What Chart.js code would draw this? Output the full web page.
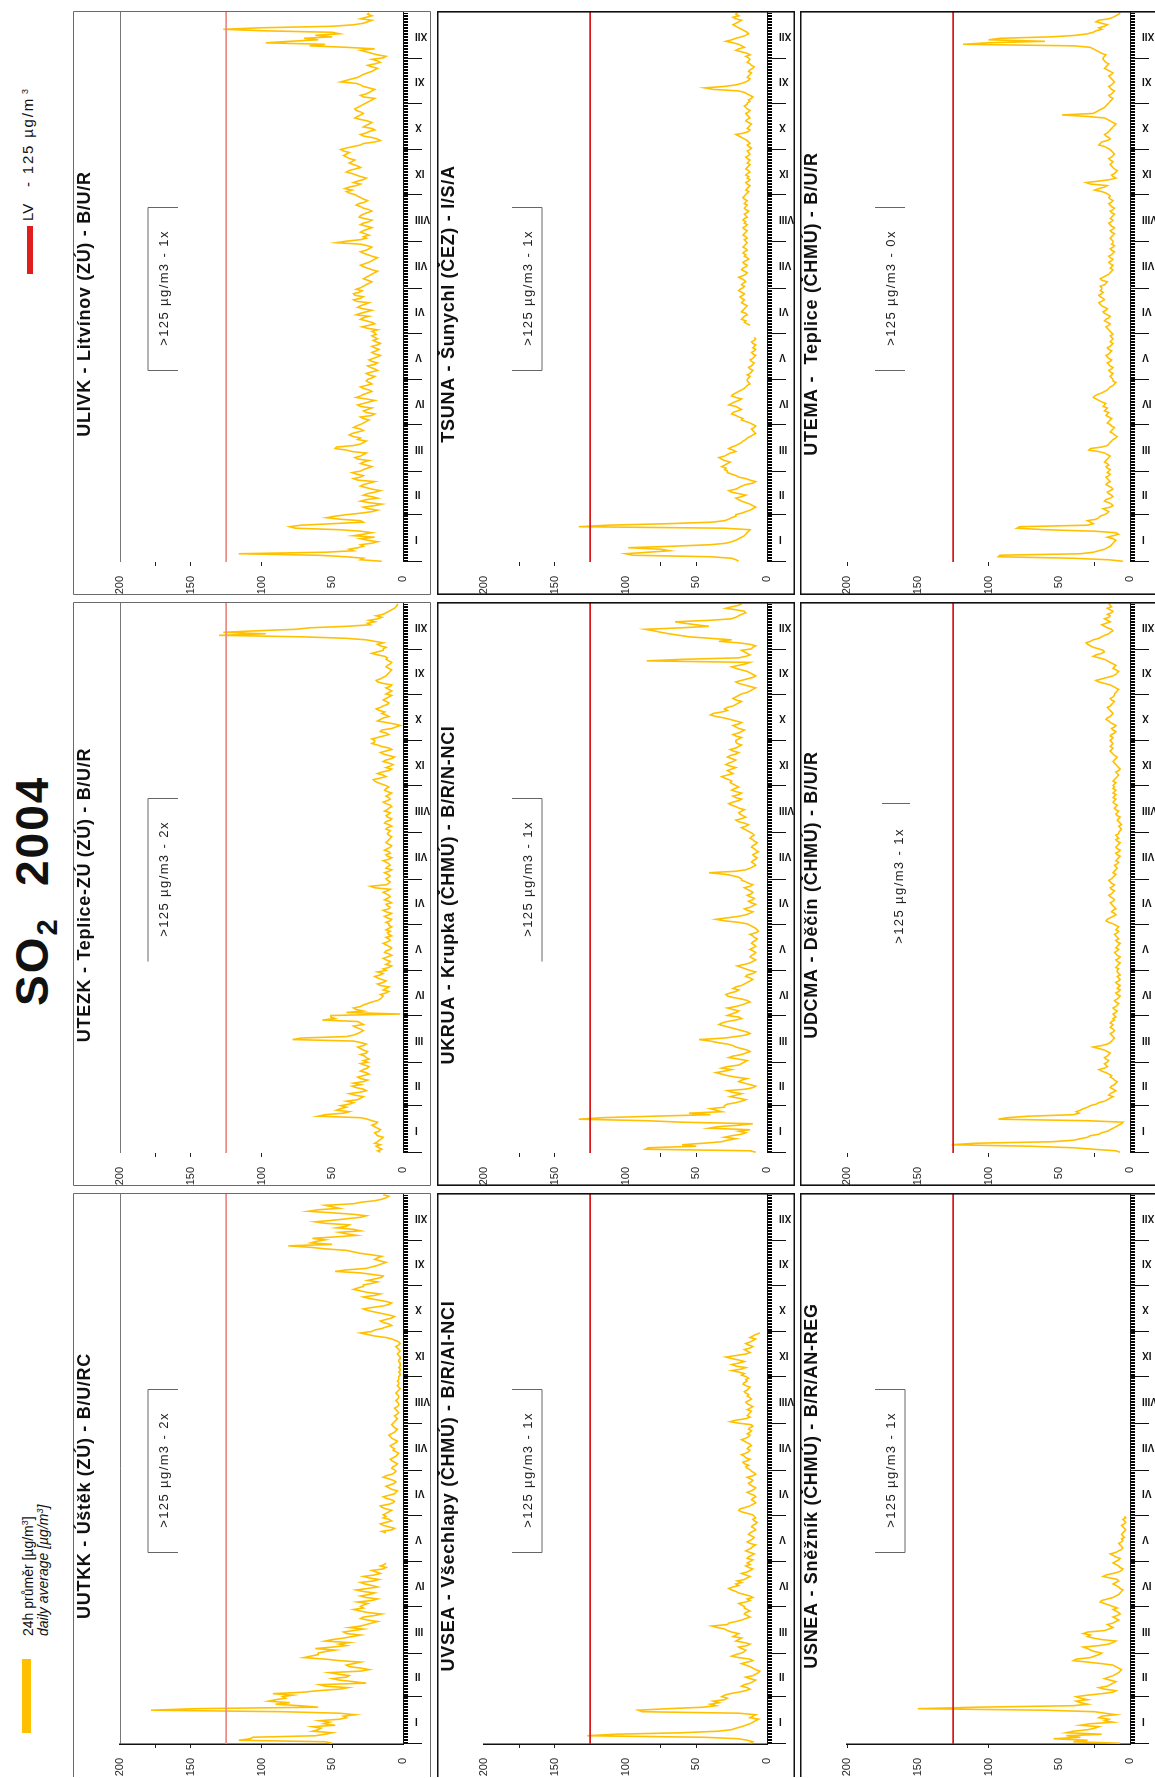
<!DOCTYPE html>
<html lang="cs">
<head>
<meta charset="utf-8">
<title>SO2 2004</title>
<script src="https://cdn.jsdelivr.net/npm/chart.js@4.4.1/dist/chart.umd.min.js"></script>
<style>
  html, body { margin: 0; padding: 0; background: #fff; }
  body { width: 1155px; height: 1778px; overflow: hidden; position: relative; }
  /* the landscape sheet is laid out 1778 x 1155 and turned onto the portrait page */
  #sheet { position: absolute; left: 0; top: 0; width: 1778px; height: 1155px;
           transform-origin: 0 0; transform: translate(0, 1778px) rotate(-90deg);
           font-family: "Liberation Sans", Arial, sans-serif; color: #111; background: #fff; }
  #sheet canvas { position: absolute; }
  .heading { position: absolute; top: 9px; font-weight: bold; font-size: 46px; line-height: 46px; letter-spacing: 2px; white-space: nowrap; }
  .heading sub { font-size: 29px; vertical-align: -9px; line-height: 0; letter-spacing: 0; }
  .swatch { position: absolute; }
  .legtext { position: absolute; font-size: 14px; line-height: 15px; white-space: nowrap; }
  .legtext sup, .lvtext sup { font-size: 9px; vertical-align: 5px; line-height: 0; }
  .lvtext { position: absolute; font-size: 15px; line-height: 20px; white-space: nowrap; }
</style>
</head>
<body>
<div id="sheet">
  <div class="heading" style="left:772px">SO<sub>2</sub></div>
  <div class="heading" style="left:892px">2004</div>

  <div class="swatch" style="left:45px;top:22px;width:74px;height:9px;background:#FFC000"></div>
  <div class="legtext" style="left:142px;top:21px">24h průměr [µg/m<sup>3</sup>]<br><i>daily average [µg/m<sup>3</sup>]</i></div>

  <div class="swatch" style="left:1504px;top:27px;width:48px;height:6px;background:#E01E1E"></div>
  <div class="lvtext" style="left:1557px;top:18px">LV</div>
  <div class="lvtext" style="left:1591px;top:18px;letter-spacing:1.8px">- 125 µg/m<sup style="margin-left:3px">3</sup></div>
</div>

<script>
// ---- calendar of 2004 ----
const MONTHS = ['I','II','III','IV','V','VI','VII','VIII','IX','X','XI','XII'];
const MONTH_DAYS = [31,29,31,30,31,30,31,31,30,31,30,31];
const LIMIT_VALUE = 125;                 // LV, 24h limit value [µg/m3]
const Y_TICK_LABELS = [0, 50, 100, 150, 200];

// ---- daily SO2 averages [µg/m3], one line per month ----
const UUTKK = [
  50,55,116,108,106,62,55,50,64,60,58,64,48,56,52,59,45,40,42,34,45,85,178,147,60,73,90,80,95,90,83,
  85,78,92,70,60,45,39,55,59,26,35,45,50,40,38,46,52,30,24,30,38,40,35,30,45,55,70,65,60,
  60,55,48,62,50,40,45,38,55,50,42,36,30,40,42,35,28,38,30,26,22,18,25,30,28,20,15,25,30,35,28,
  30,28,25,32,22,18,26,30,24,20,28,33,25,18,22,27,30,21,17,24,28,20,16,19,22,14,12,16,13,12,
  null,null,null,null,null,null,null,null,null,null,null,null,null,null,null,null,null,null,null,12,15,8,6,10,14,16,12,8,10,14,12,
  14,12,10,8,12,15,16,10,7,6,8,12,14,10,6,5,4,8,10,12,9,6,5,7,10,14,12,8,6,5,
  6,8,7,5,4,6,8,9,7,5,4,3,5,7,6,8,9,7,5,4,6,8,9,10,8,6,5,4,6,7,8,
  7,6,5,4,5,6,4,3,4,5,6,4,3,3,4,5,4,3,3,4,5,4,3,2,3,4,3,3,4,3,3,
  3,2,2,3,2,2,3,2,2,2,3,3,2,2,3,4,3,2,3,4,5,3,2,3,5,8,12,20,25,30,
  22,20,15,12,8,10,14,16,12,8,6,10,15,20,25,28,22,14,10,8,12,18,24,28,20,16,25,30,35,32,28,
  28,22,18,25,20,15,14,22,30,48,40,26,22,18,15,12,16,20,18,15,22,30,35,40,55,65,81,50,65,61,
  55,64,47,33,40,45,30,35,47,40,38,55,62,50,40,30,26,35,50,67,60,45,50,55,35,30,20,15,12,10,14
];
const UTEZK = [
  16,18,15,17,19,16,20,18,17,15,14,18,19,20,17,16,18,20,22,19,18,22,25,30,60,55,42,38,47,44,40,
  44,38,35,40,32,30,28,34,38,30,26,28,33,36,30,35,28,25,30,32,28,24,26,30,28,25,24,27,30,
  25,28,24,26,27,30,26,25,28,30,32,28,26,30,35,78,72,40,35,32,30,28,30,33,35,28,30,32,57,48,51,
  51,2,40,28,33,35,30,28,25,22,18,16,15,14,16,12,10,14,12,10,16,18,14,12,15,18,20,16,14,18,
  12,14,10,8,12,10,9,12,14,11,8,10,13,12,9,8,10,12,14,11,9,10,12,8,10,11,9,12,10,8,10,
  10,12,9,8,11,13,10,8,12,14,10,9,11,12,8,10,13,11,9,10,12,14,11,9,20,23,12,10,9,11,
  12,10,9,11,13,10,8,12,11,9,10,12,14,10,8,11,12,9,10,13,11,9,8,10,12,11,10,9,8,10,11,
  10,9,12,11,8,10,13,12,9,8,11,12,10,9,13,11,10,8,9,12,14,11,9,10,12,10,8,11,13,12,10,
  12,15,18,20,21,16,12,14,18,15,10,8,12,9,7,10,14,12,8,6,10,14,16,12,8,10,15,18,22,20,
  20,22,18,14,10,12,16,15,8,5,2,6,12,18,16,14,10,12,15,13,17,19,16,14,11,10,12,14,12,10,8,
  12,10,8,10,12,9,8,14,18,19,16,14,12,11,10,9,8,10,12,11,9,8,10,12,11,13,18,22,18,14,
  14,12,16,18,14,20,26,40,71,130,97,127,104,76,66,40,23,25,20,24,18,15,19,14,12,10,8,6,5,4,4
];
const ULIVK = [
  15,30,28,40,60,116,55,35,38,32,28,30,22,18,25,30,20,35,28,22,30,45,76,80,72,50,28,30,45,54,48,
  40,30,22,18,25,28,20,15,24,30,26,18,22,28,25,20,16,22,26,30,28,24,20,32,35,30,28,33,36,
  30,28,25,22,26,30,28,24,32,34,30,28,26,36,40,48,47,35,30,28,26,32,30,35,38,36,32,28,30,35,33,
  30,28,26,24,28,30,22,20,26,28,25,22,30,32,28,24,20,26,33,30,28,25,22,24,28,30,26,22,24,26,
  25,22,20,24,26,22,18,20,23,25,20,18,22,24,21,18,16,20,22,19,17,20,22,18,16,19,21,18,20,22,19,
  20,22,18,25,29,24,20,22,26,30,28,24,33,30,26,22,28,32,30,27,24,33,35,30,28,34,35,31,29,33,
  30,28,26,24,22,25,28,26,24,22,20,18,22,25,28,30,27,24,22,20,18,22,25,28,30,26,24,22,25,30,47,
  40,30,26,28,24,27,30,28,25,22,26,30,28,24,22,27,31,30,28,25,22,24,28,30,33,31,27,25,28,30,32,
  34,38,40,36,41,38,33,30,35,32,28,26,30,33,36,40,38,34,30,32,35,38,36,34,38,40,42,40,38,42,
  44,40,35,30,28,20,16,18,22,28,30,26,24,20,22,28,26,24,22,25,30,34,32,30,28,30,33,34,32,30,28,
  26,24,22,20,28,30,26,24,22,20,24,28,30,33,44,40,36,32,30,28,25,22,20,18,22,25,20,16,18,22,
  14,12,18,22,26,30,20,40,66,55,97,80,60,70,50,62,45,50,98,127,100,50,35,28,25,22,30,26,22,25,24
];
const UVSEA = [
  12,10,14,20,45,127,107,60,35,25,22,18,15,12,10,8,6,12,10,8,20,88,91,70,45,36,40,34,38,30,28,
  32,30,26,20,15,12,14,18,16,12,10,8,12,15,10,8,6,5,8,10,12,15,18,14,10,12,20,25,22,
  18,16,15,18,20,14,12,16,22,20,18,24,22,20,25,28,30,35,39,28,27,22,18,15,12,14,16,15,12,14,16,
  16,18,20,15,12,14,10,12,16,20,22,25,27,24,20,22,18,21,16,14,12,15,18,14,12,10,13,15,12,14,
  12,10,14,13,11,9,12,15,13,11,10,8,12,14,12,10,9,11,13,12,10,8,9,11,10,8,7,9,10,8,9,
  10,14,18,20,19,15,12,10,8,9,11,10,8,9,12,14,11,9,8,10,12,13,11,10,12,14,10,8,9,11,
  12,14,15,13,16,17,14,12,15,16,18,15,13,12,14,13,11,12,14,16,18,15,13,12,14,12,11,13,12,10,11,
  20,26,22,15,12,14,13,12,11,14,12,10,12,14,15,13,11,12,14,13,15,16,14,13,12,15,17,16,14,15,13,
  15,18,16,20,25,18,15,22,25,20,16,20,25,29,22,15,12,14,16,12,10,13,15,12,10,8,12,10,8,5,
  null,null,null,null,null,null,null,null,null,null,null,null,null,null,null,null,null,null,null,null,null,null,null,null,null,null,null,null,null,null,null,
  null,null,null,null,null,null,null,null,null,null,null,null,null,null,null,null,null,null,null,null,null,null,null,null,null,null,null,null,null,null,
  null,null,null,null,null,null,null,null,null,null,null,null,null,null,null,null,null,null,null,null,null,null,null,null,null,null,null,null,null,null,null
];
const UKRUA = [
  8,12,86,84,50,60,45,32,28,22,30,25,18,15,20,12,41,35,20,10,60,85,133,116,80,40,55,32,36,40,30,
  30,28,22,18,15,20,26,22,18,25,28,15,10,8,12,16,20,18,14,22,28,32,36,30,25,32,28,20,18,
  16,14,20,27,24,18,15,12,14,18,22,24,28,35,40,48,30,22,15,12,14,18,22,26,30,34,32,28,22,18,20,
  28,25,22,20,24,28,22,18,15,12,14,18,24,28,29,26,22,20,24,22,18,16,14,12,10,12,15,14,10,8,
  12,15,18,21,16,12,10,8,10,12,11,9,8,10,12,10,8,9,11,10,8,7,9,10,12,8,6,7,8,10,12,
  14,20,30,36,28,20,15,12,10,14,16,12,10,8,11,13,10,9,12,14,11,10,12,14,16,12,10,13,15,18,
  18,20,24,30,41,22,15,12,10,8,9,11,10,8,7,9,10,8,6,8,9,11,10,8,7,9,10,12,11,9,10,
  12,14,16,18,15,13,16,20,22,18,15,17,19,20,18,16,20,22,25,27,24,20,18,22,24,20,18,22,25,23,20,
  22,24,26,25,27,30,32,28,24,26,28,25,22,26,29,27,24,22,25,28,26,22,20,24,26,22,20,18,21,22,
  22,20,18,22,24,20,18,16,20,22,24,20,18,22,26,30,36,40,38,32,28,30,28,24,22,20,18,22,24,22,20,
  18,14,12,10,8,12,16,20,22,18,14,10,8,10,12,14,18,22,25,20,15,12,85,60,20,15,12,14,16,18,
  11,10,8,12,20,34,25,40,55,62,69,75,80,86,60,41,50,58,65,40,25,22,20,18,15,16,22,29,25,20,18
];
const TSUNA = [
  20,22,25,40,95,100,84,69,75,98,67,40,29,25,22,20,18,16,15,14,13,12,30,133,112,70,39,30,27,25,22,
  22,18,15,12,10,8,10,12,15,18,20,22,18,15,20,25,27,22,20,18,15,10,8,12,15,20,22,25,28,
  28,30,29,32,30,28,26,30,32,34,30,28,26,22,24,27,25,22,20,18,17,15,14,12,10,8,9,10,11,9,8,
  10,12,15,18,17,20,22,25,24,21,18,20,22,27,25,23,20,18,22,25,24,22,20,18,16,15,14,12,13,14,
  14,13,12,14,12,11,10,12,13,11,10,9,11,12,10,9,8,10,11,9,8,10,9,8,10,11,9,8,9,null,null,
  null,null,null,null,null,12,14,16,15,18,17,16,14,15,18,17,16,15,14,16,18,17,16,18,19,17,16,18,20,19,
  17,16,18,17,15,16,18,20,17,15,14,16,18,17,15,14,16,17,15,13,14,16,15,17,16,14,15,17,16,15,14,
  15,16,14,15,17,16,15,14,16,17,15,14,16,15,17,16,14,15,16,14,13,15,16,15,14,16,15,14,16,17,16,
  15,14,13,15,14,13,12,14,15,13,12,14,13,15,14,12,13,15,14,13,12,14,13,12,14,15,13,12,13,14,
  12,11,13,14,12,13,14,16,18,20,22,16,13,12,14,13,12,11,13,15,14,12,13,14,15,13,12,14,15,16,14,
  14,12,13,11,10,12,14,16,20,38,44,30,22,18,15,13,12,14,13,12,11,13,12,10,9,11,12,14,13,12,
  13,15,12,14,18,22,20,16,18,20,24,29,25,22,18,15,13,14,16,18,20,22,24,22,20,18,22,24,20,22,21
];
const USNEA = [
  7,40,30,54,35,45,20,45,40,30,25,22,35,28,12,18,15,22,20,10,18,25,60,150,108,40,30,35,38,30,35,
  38,30,20,12,10,18,22,16,14,12,10,14,18,15,12,10,8,7,6,8,10,12,20,30,40,38,28,25,22,
  20,25,28,30,33,22,15,12,10,20,26,30,28,33,30,18,15,12,14,16,12,10,8,10,12,9,7,8,10,12,9,
  12,15,18,21,20,16,12,10,8,7,6,5,7,8,10,12,10,8,9,14,19,17,12,8,6,5,7,8,10,12,
  10,8,7,10,12,14,10,8,6,5,6,7,8,6,5,6,4,5,6,5,4,3,4,5,6,4,3,4,5,3,4,
  null,null,null,null,null,null,null,null,null,null,null,null,null,null,null,null,null,null,null,null,null,null,null,null,null,null,null,null,null,null,
  null,null,null,null,null,null,null,null,null,null,null,null,null,null,null,null,null,null,null,null,null,null,null,null,null,null,null,null,null,null,null,
  null,null,null,null,null,null,null,null,null,null,null,null,null,null,null,null,null,null,null,null,null,null,null,null,null,null,null,null,null,null,null,
  null,null,null,null,null,null,null,null,null,null,null,null,null,null,null,null,null,null,null,null,null,null,null,null,null,null,null,null,null,null,
  null,null,null,null,null,null,null,null,null,null,null,null,null,null,null,null,null,null,null,null,null,null,null,null,null,null,null,null,null,null,null,
  null,null,null,null,null,null,null,null,null,null,null,null,null,null,null,null,null,null,null,null,null,null,null,null,null,null,null,null,null,null,
  null,null,null,null,null,null,null,null,null,null,null,null,null,null,null,null,null,null,null,null,null,null,null,null,null,null,null,null,null,null,null
];
const UDCMA = [
  7,10,26,40,70,126,109,55,40,35,30,28,22,20,16,14,12,10,8,6,5,30,93,87,72,40,36,38,35,33,30,
  28,24,22,18,16,14,12,15,14,12,10,12,14,13,11,10,9,11,12,14,13,15,17,20,22,18,16,17,18,
  16,15,17,18,16,15,14,16,18,22,26,20,16,14,13,12,11,12,13,14,12,11,12,14,13,12,14,13,11,12,10,
  11,12,10,9,11,12,10,9,8,10,11,9,8,7,9,10,8,7,9,8,7,9,10,8,7,8,9,7,8,9,
  9,8,10,9,8,7,9,10,8,7,9,10,11,9,8,10,9,8,7,9,10,8,9,10,11,9,8,10,9,8,10,
  12,15,17,16,14,12,10,11,13,12,10,11,12,13,14,12,11,12,14,15,13,12,11,13,14,12,11,13,14,15,
  13,12,11,10,12,11,10,9,10,11,9,8,10,9,8,7,9,10,8,7,9,10,9,8,7,9,10,8,9,10,8,
  8,7,6,7,8,6,7,8,9,8,7,9,10,9,8,10,11,10,9,11,12,11,10,12,11,10,12,11,10,12,11,
  12,11,10,12,11,10,9,8,9,10,8,7,8,9,10,11,12,11,10,9,11,12,13,14,13,12,14,13,12,13,
  14,13,12,14,13,11,10,12,13,11,10,12,14,15,17,16,14,13,12,13,14,15,16,14,13,12,11,13,14,12,11,
  11,10,9,8,10,12,14,18,22,24,20,16,12,10,9,8,10,12,11,10,12,14,16,18,22,26,24,20,18,19,
  22,26,28,30,31,28,26,22,20,18,15,14,12,13,16,18,20,17,14,16,18,15,14,16,13,12,14,16,13,14,15
];
const UTEMA = [
  5,15,40,93,92,35,26,22,18,16,14,13,12,11,10,12,16,12,8,10,25,60,80,78,30,26,28,30,24,22,21,
  18,16,15,17,19,14,12,13,15,18,17,14,12,13,15,16,14,12,13,15,17,16,14,15,16,17,15,14,16,
  15,14,16,17,15,16,18,17,16,15,14,16,18,22,29,28,20,16,15,14,13,12,10,9,11,12,14,13,12,11,13,
  14,16,15,14,13,15,17,16,15,18,17,16,19,18,17,20,22,24,26,25,23,20,18,16,15,14,12,11,10,12,
  12,13,14,13,12,14,15,13,12,14,15,16,14,13,15,16,17,15,14,13,15,16,14,13,12,14,13,12,13,14,12,
  13,14,15,16,17,15,14,16,18,17,15,14,16,18,19,17,16,18,20,21,22,20,18,19,21,22,20,19,21,20,
  20,21,18,17,16,20,21,19,17,15,14,13,12,14,13,12,14,15,13,12,14,15,13,12,11,13,14,12,11,13,12,
  12,13,14,13,12,11,13,14,12,11,13,14,15,13,12,14,13,12,11,13,14,12,11,13,14,15,13,12,14,15,14,
  15,17,20,25,22,18,16,28,31,22,14,10,12,13,11,10,9,11,12,13,14,13,12,14,15,13,12,11,12,13,
  14,16,18,22,21,20,16,14,15,17,18,16,15,14,13,12,11,10,12,14,16,18,30,48,26,24,22,20,18,17,16,
  15,14,13,12,14,15,13,12,11,13,14,15,13,12,11,12,13,14,15,13,12,14,16,18,17,16,15,17,18,19,
  19,18,17,20,22,24,26,28,40,118,101,60,100,92,55,38,30,26,24,20,22,18,16,20,24,22,15,12,10,8,7
];

// ---- stations, laid out as three rows of three panels ----
const PANELS = [
  { title: 'UUTKK - Úštěk (ZÚ) - B/U/RC',          values: UUTKK, note: '>125 µg/m3 - 2x', row: 0, col: 0, bracket: 'top',         axisLine: true,  topLine: true,  marks: [175,150,100,50] },
  { title: 'UTEZK - Teplice-ZÚ (ZÚ) - B/U/R',       values: UTEZK, note: '>125 µg/m3 - 2x', row: 0, col: 1, bracket: 'topRight',    axisLine: false, topLine: true,  marks: [175,150,100] },
  { title: 'ULIVK - Litvínov (ZÚ) - B/U/R',         values: ULIVK, note: '>125 µg/m3 - 1x', row: 0, col: 2, bracket: 'top',         axisLine: false, topLine: true,  marks: [175,150,100] },
  { title: 'UVSEA - Všechlapy (ČHMÚ) - B/R/AI-NCI', values: UVSEA, note: '>125 µg/m3 - 1x', row: 1, col: 0, bracket: 'bottom',      axisLine: true,  topLine: false, marks: [175,150,75,50] },
  { title: 'UKRUA - Krupka (ČHMÚ) - B/R/N-NCI',     values: UKRUA, note: '>125 µg/m3 - 1x', row: 1, col: 1, bracket: 'bottomRight', axisLine: false, topLine: false, marks: [175,150,75,50] },
  { title: 'TSUNA - Šunychl (ČEZ) - I/S/A',         values: TSUNA, note: '>125 µg/m3 - 1x', row: 1, col: 2, bracket: 'bottom',      axisLine: false, topLine: false, marks: [175,150,75,50] },
  { title: 'USNEA - Sněžník (ČHMÚ) - B/R/AN-REG',   values: USNEA, note: '>125 µg/m3 - 1x', row: 2, col: 0, bracket: 'bottom',      axisLine: true,  topLine: false, marks: [200,100,25] },
  { title: 'UDCMA - Děčín (ČHMÚ) - B/U/R',          values: UDCMA, note: '>125 µg/m3 - 1x', row: 2, col: 1, bracket: 'rightEnd',    axisLine: false, topLine: false, marks: [200,100,25] },
  { title: 'UTEMA -  Teplice (ČHMÚ) - B/U/R',       values: UTEMA, note: '>125 µg/m3 - 0x', row: 2, col: 2, bracket: 'ends',        axisLine: false, topLine: false, marks: [200,100,25] }
];

// ---- look ----
const FONT = '"Liberation Sans", Arial, sans-serif';
const SERIES_COLOR = '#FFC000';
const ROW_STYLE = [
  { limit: '#EC8C86', frame: '#6a6a6a', frameWidth: 1 },
  { limit: '#DA1A1A', frame: '#111111', frameWidth: 1.6 },
  { limit: '#DA1A1A', frame: '#111111', frameWidth: 1.6 }
];
const FRAME_LEFT = [1, 592, 1183];
const FRAME_TOP = [73, 437, 800];
const PANEL_W = 584, PANEL_H = 358;

Chart.defaults.font.family = FONT;

const MONTH_STARTS = MONTH_DAYS.reduce((acc, n) => { acc.push(acc[acc.length - 1] + n); return acc; }, [0]);
const DAY_COUNT = MONTH_STARTS[MONTH_STARTS.length - 1];
const DAY_TICKS = Array.from({ length: DAY_COUNT + 1 }, (_, d) => d);

function bracketSegments(kind) {
  const x1 = 224, x2 = 387, y1 = 75, y2 = 105;
  switch (kind) {
    case 'top':         return [[x1,y1,x2,y1],[x1,y1,x1,y2],[x2,y1,x2,y2]];
    case 'topRight':    return [[x1,y1,x2,y1],[x2,y1,x2,y2]];
    case 'bottom':      return [[x1,y2,x2,y2],[x1,y1,x1,y2],[x2,y1,x2,y2]];
    case 'bottomRight': return [[x1,y2,x2,y2],[x2,y1,x2,y2]];
    case 'ends':        return [[x1,y1,x1,y2],[x2,y1,x2,y2]];
    case 'rightEnd':    return [[x2 - 5,y1 + 7,x2 - 5,y2 + 5]];
  }
  return [];
}

// frame, station title, exceedance note, month ticks and month names
const panelDecor = {
  id: 'panelDecor',
  afterDraw(chart, args, opts) {
    const p = opts.panel;
    const st = ROW_STYLE[p.row];
    const ctx = chart.ctx;
    const xs = chart.scales.x;
    const { bottom } = chart.chartArea;
    const W = chart.width, H = chart.height;
    ctx.save();

    // month boundaries: long ticks below the axis
    ctx.strokeStyle = '#111';
    ctx.lineWidth = 1;
    ctx.beginPath();
    MONTH_STARTS.forEach(d => {
      const x = Math.round(xs.getPixelForValue(d)) + 0.5;
      ctx.moveTo(x, bottom);
      ctx.lineTo(x, bottom + 19);
    });
    ctx.stroke();

    // month names, vertical
    ctx.fillStyle = '#111';
    ctx.font = 'bold 10px ' + FONT;
    ctx.textAlign = 'right';
    ctx.textBaseline = 'middle';
    MONTHS.forEach((m, i) => {
      const x = xs.getPixelForValue(MONTH_STARTS[i] + MONTH_DAYS[i] / 2);
      ctx.save();
      ctx.translate(x, bottom + 12);
      ctx.rotate(-Math.PI / 2);
      ctx.fillText(m, 0, 0);
      ctx.restore();
    });

    // frame
    ctx.strokeStyle = st.frame;
    ctx.lineWidth = st.frameWidth;
    const o = st.frameWidth / 2;
    ctx.beginPath();
    if (p.col === 0) {
      ctx.moveTo(0, o); ctx.lineTo(W - o, o); ctx.lineTo(W - o, H - o); ctx.lineTo(0, H - o);
    } else {
      ctx.rect(o, o, W - 2 * o, H - 2 * o);
    }
    ctx.stroke();

    // station title
    ctx.fillStyle = '#111';
    ctx.font = 'bold 18px ' + FONT;
    ctx.textAlign = 'center';
    ctx.textBaseline = 'alphabetic';
    if ('letterSpacing' in ctx) ctx.letterSpacing = '0.7px';
    ctx.fillText(p.title, 291, 17);

    // exceedance note with its bracket
    ctx.strokeStyle = '#666';
    ctx.lineWidth = 1;
    ctx.beginPath();
    bracketSegments(p.bracket).forEach(([a, b, c, d]) => {
      ctx.moveTo(Math.round(a) + 0.5, b);
      ctx.lineTo(Math.round(c) + 0.5, d);
    });
    ctx.stroke();
    ctx.fillStyle = '#222';
    ctx.font = '13px ' + FONT;
    if ('letterSpacing' in ctx) ctx.letterSpacing = '1.4px';
    const shifted = p.bracket === 'rightEnd';
    ctx.fillText(p.note, shifted ? 300 : 307, shifted ? 103 : 95);
    ctx.restore();
  }
};

const sheet = document.getElementById('sheet');

PANELS.forEach(p => {
  const st = ROW_STYLE[p.row];
  const canvas = document.createElement('canvas');
  canvas.width = PANEL_W;
  canvas.height = PANEL_H;
  canvas.style.left = FRAME_LEFT[p.col] + 'px';
  canvas.style.top = FRAME_TOP[p.row] + 'px';
  canvas.style.width = PANEL_W + 'px';
  canvas.style.height = PANEL_H + 'px';
  sheet.appendChild(canvas);

  const yTicks = Array.from(new Set(Y_TICK_LABELS.concat(p.marks))).sort((a, b) => a - b);

  new Chart(canvas, {
    type: 'line',
    data: {
      datasets: [
        {
          label: 'LV',
          data: [{ x: 0, y: LIMIT_VALUE }, { x: DAY_COUNT, y: LIMIT_VALUE }],
          borderColor: st.limit, borderWidth: 1.7, pointRadius: 0, order: 0
        },
        {
          label: p.title,
          data: p.values.map((v, i) => ({ x: i + 0.5, y: v })),
          borderColor: SERIES_COLOR, borderWidth: 1.6, pointRadius: 0,
          tension: 0, spanGaps: false, order: 1
        }
      ]
    },
    options: {
      responsive: false,
      animation: false,
      devicePixelRatio: 1,
      events: [],
      layout: { padding: { top: 47, right: 1, bottom: 0, left: 0 } },
      plugins: { legend: { display: false }, tooltip: { enabled: false }, panelDecor: { panel: p } },
      scales: {
        x: {
          type: 'linear', min: 0, max: DAY_COUNT, position: 'bottom',
          afterBuildTicks: s => { s.ticks = DAY_TICKS.map(v => ({ value: v })); },
          afterFit: s => { s.height = PANEL_H - 330; },
          ticks: { display: false },
          grid: { drawOnChartArea: false, drawTicks: true, tickLength: 5, tickColor: '#000', tickWidth: 1 },
          border: { display: true, color: '#111', width: 1 }
        },
        y: {
          min: 0, max: 200, position: 'left',
          afterBuildTicks: s => { s.ticks = yTicks.map(v => ({ value: v })); },
          afterFit: s => { s.width = 33; },
          ticks: {
            autoSkip: false, padding: 10, color: '#222', font: { size: 11 },
            callback: v => Y_TICK_LABELS.includes(v) ? String(v) : ''
          },
          grid: {
            drawOnChartArea: true, drawTicks: true, tickLength: 4, lineWidth: 1,
            color: c => (p.topLine && c.tick && c.tick.value === 200) ? '#777' : 'rgba(0,0,0,0)',
            tickColor: c => (c.tick && p.marks.includes(c.tick.value)) ? '#222' : 'rgba(0,0,0,0)'
          },
          border: { display: p.axisLine, color: '#111', width: 1.5 }
        }
      }
    },
    plugins: [panelDecor]
  });
});
</script>
</body>
</html>
